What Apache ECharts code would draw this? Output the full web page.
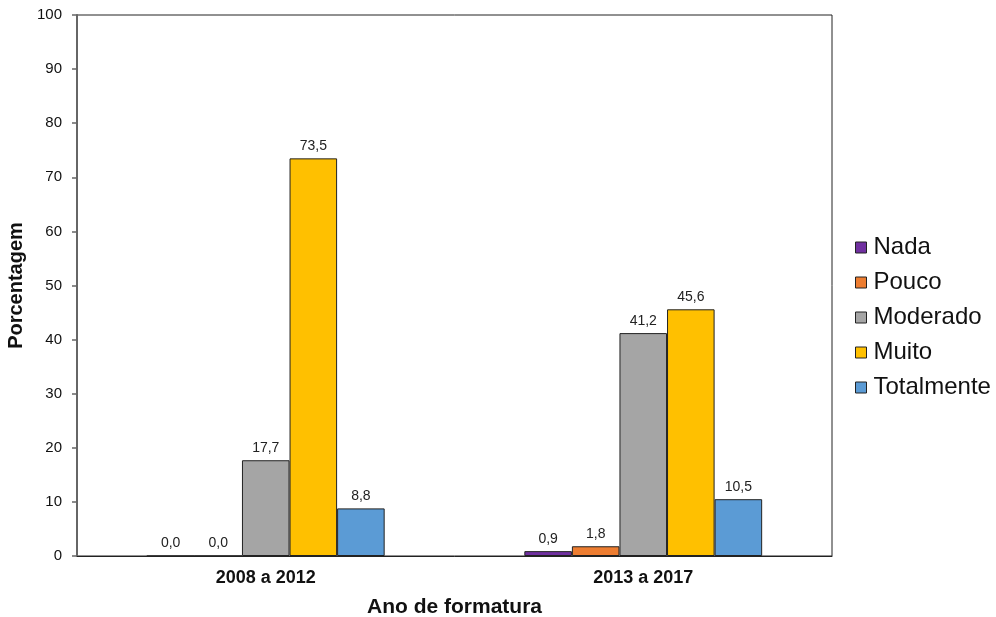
<!DOCTYPE html>
<html>
<head>
<meta charset="utf-8">
<script src="https://cdn.jsdelivr.net/npm/echarts@6/dist/echarts.min.js"></script>
<style>
  html, body { margin: 0; padding: 0; background: #fff; }
  #chart { width: 996px; height: 617px; }
</style>
</head>
<body>
<div id="chart"></div>
<script>
// Categories (graduation periods)
const categories = ['2008 a 2012', '2013 a 2017'];

// Series values (%) per response level
const nada = [0.0, 0.9];
const pouco = [0.0, 1.8];
const moderado = [17.7, 41.2];
const muito = [73.5, 45.6];
const totalmente = [8.8, 10.5];

const seriesNames = ['Nada', 'Pouco', 'Moderado', 'Muito', 'Totalmente'];
const seriesValues = [nada, pouco, moderado, muito, totalmente];
const seriesColors = ['#7030A0', '#ED7D31', '#A5A5A5', '#FFC000', '#5B9BD5'];

const font = 'Arial, "Liberation Sans", sans-serif';

const chart = echarts.init(document.getElementById('chart'), null, { renderer: 'canvas' });

const series = seriesNames.map((name, i) => ({
  name: name,
  type: 'bar',
  data: seriesValues[i],
  barGap: '0%',
  barCategoryGap: '37%',
  itemStyle: { color: seriesColors[i], borderColor: '#222', borderWidth: 1 },
  label: {
    show: true,
    position: 'top',
    distance: 5,
    fontFamily: font,
    fontSize: 14,
    color: '#222',
    formatter: p => p.value.toFixed(1).replace('.', ',')
  }
}));

chart.setOption({
  animation: false,
  backgroundColor: '#fff',
  grid: {
    left: 77, right: 164, top: 15, bottom: 61,
    outerBoundsMode: 'none',
    containLabel: false,
    show: true, borderColor: '#222', borderWidth: 1, backgroundColor: 'transparent'
  },
  legend: {
    orient: 'vertical',
    left: 855,
    top: 234,
    padding: 0,
    itemWidth: 11,
    itemHeight: 11,
    itemGap: 8,
    icon: 'rect',
    data: seriesNames,
    textStyle: { fontFamily: font, fontSize: 24, lineHeight: 27, color: '#111', padding: [0, 0, 0, 2] },
    itemStyle: { borderColor: '#222', borderWidth: 1 }
  },
  xAxis: {
    type: 'category',
    data: categories,
    name: 'Ano de formatura',
    nameLocation: 'middle',
    nameGap: 41,
    nameTextStyle: { fontFamily: font, fontSize: 21, fontWeight: 'bold', color: '#111' },
    axisLine: { lineStyle: { color: '#222', width: 1 } },
    axisTick: { show: false },
    axisLabel: { fontFamily: font, fontSize: 18, fontWeight: 'bold', color: '#111', margin: 13 }
  },
  yAxis: {
    type: 'value',
    min: 0,
    max: 100,
    interval: 10,
    name: 'Porcentagem',
    nameLocation: 'middle',
    nameGap: 42,
    nameTextStyle: { fontFamily: font, fontSize: 20, fontWeight: 'bold', color: '#111' },
    axisLine: { show: true, lineStyle: { color: '#666', width: 2 } },
    axisTick: { show: true, inside: false, length: 5, lineStyle: { color: '#666', width: 1.5 } },
    splitLine: { show: false },
    axisLabel: { fontFamily: font, fontSize: 15, color: '#111', margin: 15 }
  },
  series: series
});
</script>
</body>
</html>
